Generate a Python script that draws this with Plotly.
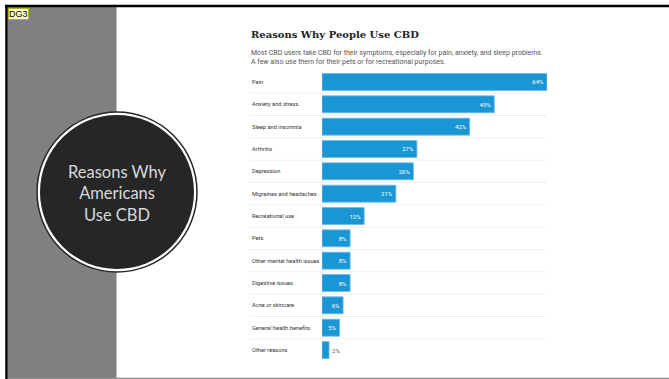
import plotly.graph_objects as go

W, H = 669, 379

categories = ["Pain", "Anxiety and stress", "Sleep and insomnia", "Arthritis", "Depression",
              "Migraines and headaches", "Recreational use", "Pets", "Other mental health issues",
              "Digestive issues", "Acne or skincare", "General health benefits", "Other reasons"]
values = [64, 49, 42, 27, 26, 21, 12, 8, 8, 8, 6, 5, 2]

title = "Reasons Why People Use CBD"
subtitle_1 = "Most CBD users take CBD for their symptoms, especially for pain, anxiety, and sleep problems."
subtitle_2 = "A few also use them for their pets or for recreational purposes."
slide_title = "Reasons Why<br>Americans<br>Use CBD"

BAR = "#1a96d4"


def px(x):
    return x / W


def py(y):
    return 1 - y / H


textpos = ["inside" if v >= 4 else "outside" for v in values]

fig = go.Figure(go.Bar(
    x=values, y=categories, orientation="h",
    marker=dict(color=BAR, line=dict(color="#6cbde8", width=0.8)),
    text=[f"{v}%" for v in values], textposition=textpos,
    insidetextanchor="end",
    insidetextfont=dict(color="white", size=6, family="Roboto"),
    outsidetextfont=dict(color="#555555", size=6, family="Roboto"),
    cliponaxis=False, hoverinfo="skip",
))

shapes = []
annotations = []

# slide background pieces
shapes.append(dict(type="rect", xref="paper", yref="paper", x0=px(8), x1=px(116.5), y0=py(379), y1=py(7),
                   fillcolor="#808080", line_width=0, layer="below"))
shapes.append(dict(type="line", xref="paper", yref="paper", x0=px(6.5), x1=px(6.5), y0=py(379), y1=py(5),
                   line=dict(color="black", width=2.5)))
shapes.append(dict(type="line", xref="paper", yref="paper", x0=px(5), x1=px(669), y0=py(6), y1=py(6),
                   line=dict(color="black", width=2.5)))
shapes.append(dict(type="line", xref="paper", yref="paper", x0=px(8), x1=px(669), y0=py(378.5), y1=py(378.5),
                   line=dict(color="#8c8c8c", width=1.5)))

# circle
cx, cy = 117, 192
shapes.append(dict(type="circle", xref="paper", yref="paper", x0=px(cx - 80), x1=px(cx + 80),
                   y0=py(cy + 80), y1=py(cy - 80), fillcolor="white",
                   line=dict(color="#262626", width=1.5)))
shapes.append(dict(type="circle", xref="paper", yref="paper", x0=px(cx - 77), x1=px(cx + 77),
                   y0=py(cy + 77), y1=py(cy - 77), fillcolor="#262626", line_width=0))

annotations.append(dict(xref="paper", yref="paper", x=px(cx), y=py(193), text=slide_title,
                        showarrow=False, xanchor="center", yanchor="middle", align="center",
                        font=dict(family="Lato", size=16.5, color="#d9d9d9")))

# DG3 tag
annotations.append(dict(xref="paper", yref="paper", x=px(8), y=py(8), text="DG3", showarrow=False,
                        xanchor="left", yanchor="top", bgcolor="#ffffcc", bordercolor="#b5b500",
                        borderwidth=1, borderpad=0, font=dict(family="Liberation Sans", size=9, color="black")))

# chart title and subtitle
annotations.append(dict(xref="paper", yref="paper", x=px(249), y=py(35), text=f"<b>{title}</b>",
                        showarrow=False, xanchor="left", yanchor="middle",
                        font=dict(family="DejaVu Serif", size=10, color="#222222")))
annotations.append(dict(xref="paper", yref="paper", x=px(249), y=py(57.5),
                        text=subtitle_1 + "<br>" + subtitle_2,
                        showarrow=False, xanchor="left", yanchor="middle", align="left",
                        font=dict(family="Roboto", size=7, color="#555555")))

# row labels and separators
for i, c in enumerate(categories):
    annotations.append(dict(xref="paper", yref="y", x=px(250), y=c, text=c, showarrow=False,
                            xanchor="left", yanchor="middle",
                            font=dict(family="Roboto", size=5.7, color="#333333")))
    if i < len(categories) - 1:
        shapes.append(dict(type="line", xref="paper", yref="y", x0=px(250), x1=px(547),
                           y0=i + 0.5, y1=i + 0.5, line=dict(color="#ececec", width=0.8), layer="below"))

top, bottom = 70.8, 361.2
fig.update_layout(
    width=W, height=H, margin=dict(l=0, r=0, t=0, b=0),
    paper_bgcolor="white", plot_bgcolor="rgba(0,0,0,0)",
    showlegend=False, bargap=0.24,
    xaxis=dict(domain=[px(322), px(547)], range=[0, 64], visible=False, fixedrange=True),
    yaxis=dict(domain=[py(bottom), py(top)], autorange="reversed", visible=False,
               categoryorder="array", categoryarray=categories, fixedrange=True),
    shapes=shapes, annotations=annotations,
)

fig.write_html("out.html", config={"displayModeBar": False})
